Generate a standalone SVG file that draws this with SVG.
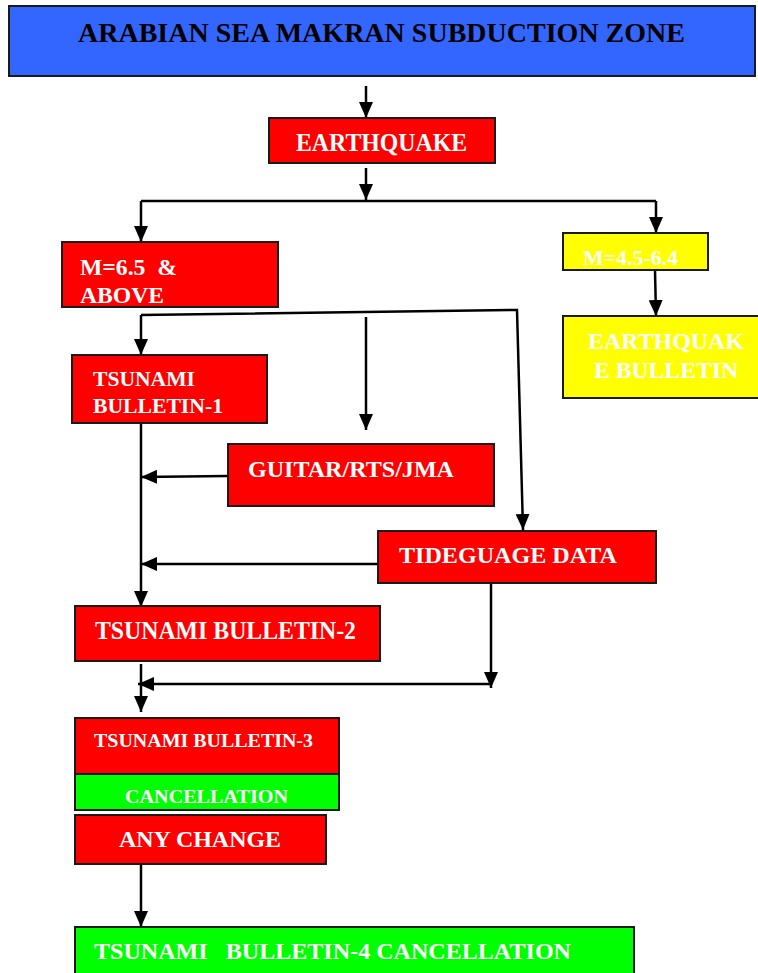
<svg xmlns="http://www.w3.org/2000/svg" width="758" height="973" viewBox="0 0 758 973">
<style>
.box{stroke:#1a1a1a;stroke-width:2}
.red{fill:#ff0000}
.yel{fill:#ffff00}
.grn{fill:#00ff00}
.blue{fill:#3366ff}
.t{font-family:"Liberation Serif","Times New Roman",serif;font-weight:bold;fill:#ffffff}
.dk{fill:#000000}
.c path{fill:none;stroke:#000;stroke-width:2.5}
</style>
<defs>
<marker id="ah" viewBox="0 0 16 14" refX="16" refY="7" markerWidth="16" markerHeight="14" markerUnits="userSpaceOnUse" orient="auto">
<path d="M0,0 L16,7 L0,14 Z" fill="#000"/>
</marker>
</defs>
<rect width="758" height="973" fill="#ffffff"/>
<g class="c">
<path d="M366 86 L366 118" marker-end="url(#ah)"/>
<path d="M366 168 L366 200" marker-end="url(#ah)"/>
<path d="M141 201 L656 201"/>
<path d="M141 201 L141 242" marker-end="url(#ah)"/>
<path d="M656 201 L656 233" marker-end="url(#ah)"/>
<path d="M655 270 L656 316" marker-end="url(#ah)"/>
<path d="M141 315 L517 310 L523 530" marker-end="url(#ah)"/>
<path d="M141 315 L141 355" marker-end="url(#ah)"/>
<path d="M366 317 L366 430" marker-end="url(#ah)"/>
<path d="M141 416 L141 607" marker-end="url(#ah)"/>
<path d="M228 476 L141 477" marker-end="url(#ah)"/>
<path d="M378 564 L141 564" marker-end="url(#ah)"/>
<path d="M491 584 L491 688" marker-end="url(#ah)"/>
<path d="M491 684 L138 684" marker-end="url(#ah)"/>
<path d="M141 664 L141 712" marker-end="url(#ah)"/>
<path d="M141 864 L141 927" marker-end="url(#ah)"/>
</g>
<g id="title"><rect class="box blue" x="9" y="6" width="746" height="70"/><text class="t dk" x="78" y="42" font-size="28" textLength="607" lengthAdjust="spacingAndGlyphs">ARABIAN SEA MAKRAN SUBDUCTION ZONE</text></g>
<g id="earthquake"><rect class="box red" x="269" y="118" width="226" height="45"/><text class="t" x="296" y="151" font-size="25" textLength="171" lengthAdjust="spacingAndGlyphs">EARTHQUAKE</text></g>
<g id="m65"><rect class="box red" x="62" y="242" width="216" height="65"/><text class="t" x="80" y="275" font-size="24" textLength="97" lengthAdjust="spacingAndGlyphs" xml:space="preserve">M=6.5  &amp;</text><text class="t" x="80" y="303" font-size="24" textLength="84" lengthAdjust="spacingAndGlyphs">ABOVE</text></g>
<g id="m45"><rect class="box yel" x="563" y="233" width="145" height="37"/><text class="t" x="583" y="265" font-size="20" textLength="95" lengthAdjust="spacingAndGlyphs">M=4.5-6.4</text></g>
<g id="eqbulletin"><rect class="box yel" x="563" y="316" width="198" height="82"/><text class="t" x="588" y="349" font-size="24" textLength="156" lengthAdjust="spacingAndGlyphs">EARTHQUAK</text><text class="t" x="594" y="378" font-size="24" textLength="144" lengthAdjust="spacingAndGlyphs">E BULLETIN</text></g>
<g id="tb1"><rect class="box red" x="72" y="355" width="195" height="68"/><text class="t" x="93" y="386" font-size="22" textLength="102" lengthAdjust="spacingAndGlyphs">TSUNAMI</text><text class="t" x="93" y="413" font-size="22" textLength="130" lengthAdjust="spacingAndGlyphs">BULLETIN-1</text></g>
<g id="guitar"><rect class="box red" x="228" y="444" width="266" height="62"/><text class="t" x="248" y="477" font-size="24" textLength="206" lengthAdjust="spacingAndGlyphs">GUITAR/RTS/JMA</text></g>
<g id="tide"><rect class="box red" x="378" y="531" width="278" height="52"/><text class="t" x="399" y="563" font-size="24" textLength="218" lengthAdjust="spacingAndGlyphs">TIDEGUAGE DATA</text></g>
<g id="tb2"><rect class="box red" x="75" y="606" width="305" height="55"/><text class="t" x="95" y="639" font-size="25" textLength="261" lengthAdjust="spacingAndGlyphs">TSUNAMI BULLETIN-2</text></g>
<g id="tb3"><rect class="box red" x="75" y="718" width="264" height="56"/><text class="t" x="94" y="747" font-size="19" textLength="219" lengthAdjust="spacingAndGlyphs">TSUNAMI BULLETIN-3</text></g>
<g id="cancel"><rect class="box grn" x="75" y="774" width="264" height="36"/><text class="t" x="125" y="803" font-size="19" textLength="163" lengthAdjust="spacingAndGlyphs">CANCELLATION</text></g>
<g id="anychange"><rect class="box red" x="75" y="815" width="251" height="49"/><text class="t" x="119" y="847" font-size="24" textLength="162" lengthAdjust="spacingAndGlyphs">ANY CHANGE</text></g>
<g id="tb4"><rect class="box grn" x="75" y="927" width="559" height="50"/><text class="t" x="94" y="959" font-size="24" textLength="477" lengthAdjust="spacingAndGlyphs" xml:space="preserve">TSUNAMI   BULLETIN-4 CANCELLATION</text></g>
</svg>
